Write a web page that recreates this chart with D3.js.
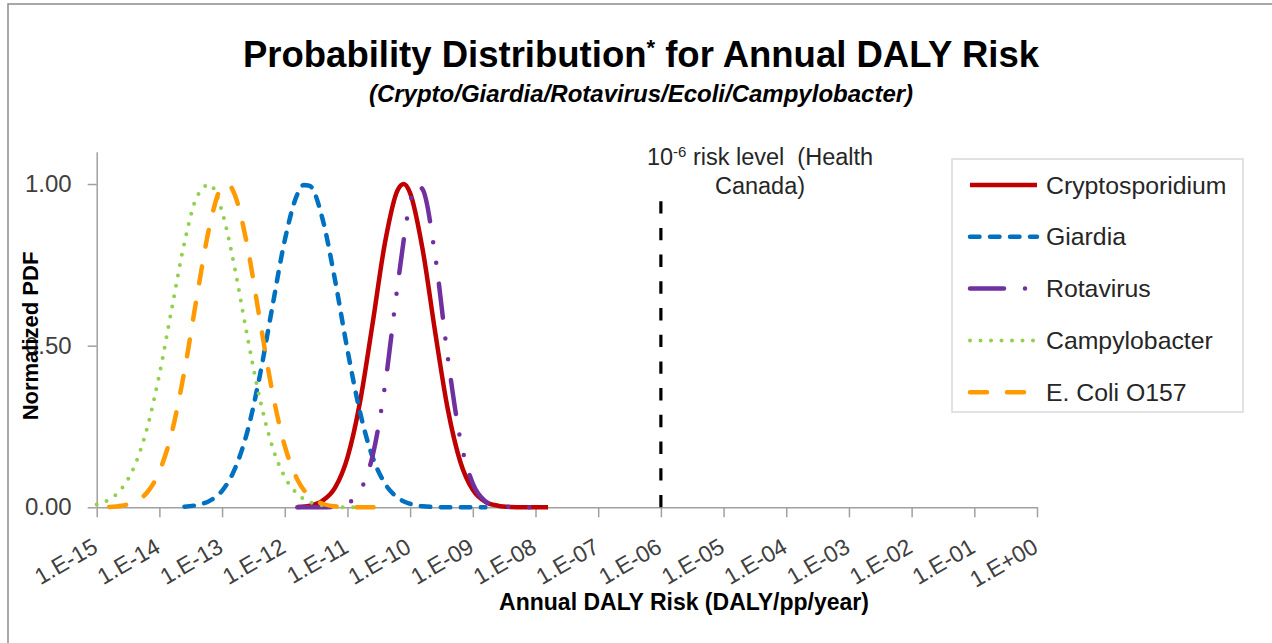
<!DOCTYPE html>
<html><head><meta charset="utf-8">
<script src="https://cdn.jsdelivr.net/npm/d3@7"></script>
<style>
html,body{margin:0;padding:0;background:#fff;}
svg{display:block;font-family:"Liberation Sans",Arial,sans-serif;}
</style></head><body>
<svg id="chart" width="1272" height="643"></svg>
<script>
// ---------- data ----------
const seriesNames = ["Cryptosporidium", "Giardia", "Rotavirus", "Campylobacter", "E. Coli O157"];

// x = log10(annual DALY risk), y = normalized PDF
const cryptoLog = [-11.8,-11.6,-11.4,-11.2,-11.0,-10.8,-10.6,-10.4,-10.2,-10.1,-10.0,-9.8,-9.6,-9.4,-9.2,-9.0,-8.8,-8.6,-8.4,-8.2,-8.0,-7.8];
const cryptoPdf = [0.001,0.005,0.020,0.060,0.154,0.325,0.567,0.820,0.981,1.000,0.972,0.797,0.541,0.304,0.141,0.054,0.017,0.005,0.001,0,0,0];

const giardiaLog = [-13.6,-13.4,-13.2,-13.0,-12.8,-12.6,-12.4,-12.2,-12.0,-11.8,-11.7,-11.6,-11.4,-11.2,-11.0,-10.8,-10.6,-10.4,-10.2,-10.0,-9.8,-9.6,-9.4,-9.2,-9.0,-8.8];
const giardiaPdf = [0.002,0.007,0.020,0.051,0.117,0.232,0.405,0.618,0.826,0.968,0.997,0.994,0.894,0.705,0.487,0.295,0.156,0.073,0.030,0.011,0.003,0.001,0,0,0,0];

const rotaLog = [-11.8,-11.6,-11.4,-11.2,-11.0,-10.8,-10.6,-10.4,-10.2,-10.0,-9.9,-9.8,-9.6,-9.4,-9.2,-9.0,-8.8,-8.6,-8.4,-8.2,-8.0,-7.8];
const rotaPdf = [0,0,0,0.002,0.012,0.050,0.158,0.378,0.686,0.943,0.997,0.983,0.777,0.465,0.211,0.073,0.019,0.004,0.001,0,0,0];

const campyLog = [-15.0,-14.8,-14.6,-14.4,-14.2,-14.0,-13.8,-13.6,-13.4,-13.2,-13.0,-12.8,-12.6,-12.4,-12.2,-12.0,-11.8,-11.6,-11.4,-11.2,-11.0,-10.8];
const campyPdf = [0.009,0.024,0.058,0.126,0.242,0.411,0.617,0.819,0.961,0.998,0.915,0.742,0.532,0.338,0.189,0.094,0.041,0.016,0.006,0.002,0,0];

const ecoliLog = [-14.8,-14.6,-14.4,-14.2,-14.0,-13.8,-13.6,-13.4,-13.2,-13.0,-12.9,-12.8,-12.6,-12.4,-12.2,-12.0,-11.8,-11.6,-11.4,-11.2,-11.0,-10.8,-10.6,-10.4];
const ecoliPdf = [0.001,0.005,0.016,0.045,0.111,0.233,0.422,0.654,0.869,0.991,0.998,0.968,0.811,0.583,0.359,0.190,0.086,0.033,0.011,0.003,0.001,0,0,0];

const xTickExponents = [-15,-14,-13,-12,-11,-10,-9,-8,-7,-6,-5,-4,-3,-2,-1,0];
const xTickLabels = ["1.E-15","1.E-14","1.E-13","1.E-12","1.E-11","1.E-10","1.E-09","1.E-08","1.E-07","1.E-06","1.E-05","1.E-04","1.E-03","1.E-02","1.E-01","1.E+00"];
const yTickValues = [0, 0.5, 1.0];
const yTickLabels = ["0.00", "0.50", "1.00"];

const riskLevelValue = 1e-6;   // Health Canada reference level
const riskLevelTop = 0.954;    // height of the reference marker line

// ---------- layout / styles ----------
const svg = d3.select("#chart");
const W = 1272, H = 643;
const plot = {left: 96.7, right: 1037, top: 151.7, bottom: 507.3};
const font = '"Liberation Sans", Arial, sans-serif';

const styles = [
  {color: "#C00000", width: 4.5, dash: null},
  {color: "#0070C0", width: 4.5, dash: "9.5,10.5"},
  {color: "#7030A0", width: 4.5, dash: "34,21,0,21,0,21"},
  {color: "#92D050", width: 4,   dash: "0,10.5"},
  {color: "#FF9A00", width: 4.5, dash: "17,20"}
];

svg.append("rect").attr("width", W).attr("height", H).attr("fill", "#fff");
// chart frame (only left/top edges visible in reference)
svg.append("rect").attr("x", 8).attr("y", 4).attr("width", W + 50).attr("height", H + 50)
  .attr("fill", "none").attr("stroke", "#8c8c8c").attr("stroke-width", 1.5);

const x = d3.scaleLog().domain([1e-15, 1]).range([plot.left, plot.right]);
const y = d3.scaleLinear().domain([0, 1.1]).range([plot.bottom, plot.top]);

// ---------- axes ----------
const xTickValues = xTickExponents.map(e => Math.pow(10, e));
const gx = svg.append("g").attr("transform", `translate(0,${plot.bottom})`)
  .call(d3.axisBottom(x).tickValues(xTickValues)
    .tickFormat(d => xTickLabels[xTickValues.indexOf(d)])
    .tickSizeInner(10).tickSizeOuter(0));
gx.select(".domain").attr("stroke", "#a0a0a0").attr("stroke-width", 1.5);
gx.selectAll(".tick line").attr("stroke", "#a0a0a0").attr("stroke-width", 1.5);
gx.selectAll(".tick text")
  .attr("x", 0).attr("y", 0).attr("dy", "0.35em")
  .attr("text-anchor", "end")
  .attr("transform", "translate(-2,37) rotate(-30)")
  .attr("font-family", font).attr("font-size", 23).attr("fill", "#404040");

const gy = svg.append("g").attr("transform", `translate(${plot.left},0)`)
  .call(d3.axisLeft(y).tickValues(yTickValues)
    .tickFormat(d => yTickLabels[yTickValues.indexOf(d)])
    .tickSizeInner(9).tickSizeOuter(0).tickPadding(16));
gy.select(".domain").attr("stroke", "#a0a0a0").attr("stroke-width", 1.5);
gy.selectAll(".tick line").attr("stroke", "#a0a0a0").attr("stroke-width", 1.5);
gy.selectAll(".tick text").attr("font-family", font).attr("font-size", 24).attr("fill", "#404040");

// ---------- series ----------
const seriesLogs = [cryptoLog, giardiaLog, rotaLog, campyLog, ecoliLog];
const seriesPdfs = [cryptoPdf, giardiaPdf, rotaPdf, campyPdf, ecoliPdf];

const line = d3.line()
  .x(d => x(Math.pow(10, d[0])))
  .y(d => y(d[1]))
  .curve(d3.curveMonotoneX);

seriesNames.forEach((name, i) => {
  const pts = seriesLogs[i].map((lx, j) => [lx, seriesPdfs[i][j]]);
  const s = styles[i];
  svg.append("path").datum(pts)
    .attr("d", line)
    .attr("fill", "none")
    .attr("stroke", s.color)
    .attr("stroke-width", s.width)
    .attr("stroke-linecap", s.dash ? "round" : "butt")
    .attr("stroke-linejoin", "round")
    .attr("stroke-dasharray", s.dash);
});

// ---------- 10^-6 reference line ----------
svg.append("line")
  .attr("x1", x(riskLevelValue)).attr("x2", x(riskLevelValue))
  .attr("y1", y(0)).attr("y2", y(riskLevelTop))
  .attr("stroke", "#000").attr("stroke-width", 3.2)
  .attr("stroke-dasharray", "12.4,14.3");

const ann = svg.append("text").attr("x", 760).attr("y", 165)
  .attr("text-anchor", "middle").attr("font-family", font).attr("font-size", 23.5)
  .attr("fill", "#262626").style("white-space", "pre");
ann.append("tspan").text("10");
ann.append("tspan").attr("baseline-shift", "super").attr("font-size", 15).text("-6");
ann.append("tspan").text(" risk level  (Health");
svg.append("text").attr("x", 760).attr("y", 194)
  .attr("text-anchor", "middle").attr("font-family", font).attr("font-size", 23.5)
  .attr("fill", "#262626").text("Canada)");

// ---------- titles ----------
const title = svg.append("text").attr("x", 641).attr("y", 67)
  .attr("text-anchor", "middle").attr("font-family", font)
  .attr("font-size", 36.5).attr("font-weight", "bold").attr("fill", "#000");
title.append("tspan").text("Probability Distribution");
title.append("tspan").attr("baseline-shift", "super").attr("font-size", 22).text("*");
title.append("tspan").text(" for Annual DALY Risk");

svg.append("text").attr("x", 641).attr("y", 102)
  .attr("text-anchor", "middle").attr("font-family", font)
  .attr("font-size", 24).attr("font-weight", "bold").attr("font-style", "italic")
  .attr("fill", "#000").text("(Crypto/Giardia/Rotavirus/Ecoli/Campylobacter)");

svg.append("text").attr("x", 684).attr("y", 610)
  .attr("text-anchor", "middle").attr("font-family", font)
  .attr("font-size", 23).attr("font-weight", "bold").attr("fill", "#000")
  .text("Annual DALY Risk (DALY/pp/year)");

svg.append("text").attr("transform", "translate(30,336) rotate(-90)")
  .attr("text-anchor", "middle").attr("dominant-baseline", "central")
  .attr("font-family", font).attr("font-size", 22).attr("font-weight", "bold")
  .attr("fill", "#000").text("Normalized PDF");

// ---------- legend ----------
svg.append("rect").attr("x", 952).attr("y", 159).attr("width", 291).attr("height", 253)
  .attr("fill", "#fff").attr("stroke", "#d9d9d9").attr("stroke-width", 1.5);
const legendY0 = 185, legendStep = 51.8;
seriesNames.forEach((name, i) => {
  const s = styles[i];
  const cy = legendY0 + i * legendStep;
  svg.append("line").attr("x1", 970).attr("x2", 1037).attr("y1", cy).attr("y2", cy)
    .attr("stroke", s.color).attr("stroke-width", s.width)
    .attr("stroke-linecap", s.dash ? "round" : "butt")
    .attr("stroke-dasharray", s.dash);
  svg.append("text").attr("x", 1046).attr("y", cy).attr("dy", "0.35em")
    .attr("font-family", font).attr("font-size", 24.8).attr("fill", "#262626").text(name);
});
</script>
</body></html>
